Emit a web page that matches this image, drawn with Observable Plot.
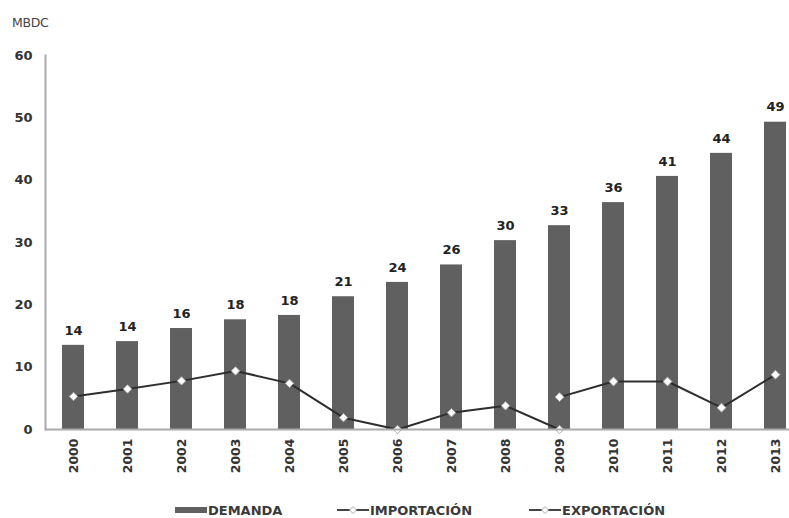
<!DOCTYPE html>
<html><head><meta charset="utf-8">
<script src="https://cdn.jsdelivr.net/npm/d3@7"></script>
<script src="https://cdn.jsdelivr.net/npm/@observablehq/plot@0.6"></script>
<style>
body{margin:0;background:#fff;font-family:"DejaVu Sans",sans-serif;}
#wrap{position:relative;width:789px;height:518px;overflow:hidden;}
#unit{position:absolute;left:12px;top:15px;font-size:12.5px;color:#444;letter-spacing:-0.3px;}
#chart{position:absolute;left:0;top:0;}
#legend{position:absolute;left:0;top:501px;width:789px;height:18px;font-size:13px;font-weight:bold;color:#3a3a3a;}
.item{position:absolute;top:0;display:flex;align-items:center;height:18px;}
</style></head>
<body><div id="wrap"><div id="unit">MBDC</div><div id="chart"></div><div id="legend"></div></div>
<script>
const years = ["2000","2001","2002","2003","2004","2005","2006","2007","2008","2009","2010","2011","2012","2013"];
const demanda = [13.5,14.1,16.2,17.6,18.3,21.3,23.6,26.4,30.3,32.7,36.4,40.6,44.3,49.3];
const importYears = ["2000","2001","2002","2003","2004","2005","2006","2007","2008","2009"];
const importacion = [5.3,6.5,7.8,9.4,7.4,1.9,0,2.7,3.8,0];
const exportYears = ["2009","2010","2011","2012","2013"];
const exportacion = [5.2,7.7,7.7,3.5,8.8];
const yTicks = [0,10,20,30,40,50,60];

const dem = years.map((y,i)=>({year:y, value:demanda[i]}));
const imp = importYears.map((y,i)=>({year:y, value:importacion[i]}));
const exp = exportYears.map((y,i)=>({year:y, value:exportacion[i]}));

const chart = Plot.plot({
  width: 789, height: 480,
  marginLeft: 45, marginRight: 0, marginTop: 55, marginBottom: 51,
  style: {fontFamily: '"DejaVu Sans", sans-serif', fontWeight: "bold", color: "#333", background: "transparent"},
  x: {type: "band", domain: years, range: [45, 802], paddingInner: 0.6, paddingOuter: 0.3, label: null},
  y: {domain: [0, 60], label: null},
  marks: [
    Plot.barY(dem, {x: "year", y: "value", fill: "#606060"}),
    Plot.text(dem, {x: "year", y: "value", text: d => String(Math.round(d.value)), dy: -15, fontSize: 13, fontWeight: "bold", fill: "#222"}),
    Plot.line(imp, {x: "year", y: "value", stroke: "#2e2e2e", strokeWidth: 2}),
    Plot.line(exp, {x: "year", y: "value", stroke: "#2e2e2e", strokeWidth: 2}),
    Plot.dot(imp, {x: "year", y: "value", symbol: "diamond2", r: 3.8, fill: "#fff", stroke: "#aaa", strokeWidth: 1}),
    Plot.dot(exp, {x: "year", y: "value", symbol: "diamond2", r: 4, fill: "#fff", stroke: "#aaa", strokeWidth: 1}),
    Plot.ruleY([0], {stroke: "#aaa", strokeWidth: 2}),
    Plot.frame({anchor: "left", stroke: "#aaa", strokeWidth: 2}),
    Plot.axisY(yTicks, {tickSize: 0, tickPadding: 13, fontSize: 13, fontWeight: "bold", fill: "#333", label: null}),
    Plot.axisX({tickSize: 0, tickRotate: -90, tickPadding: 9, fontSize: 12.5, fontWeight: "bold", fill: "#333", label: null})
  ]
});
document.getElementById("chart").appendChild(chart);

const legendItems = [
  {name: "DEMANDA", kind: "bar", left: 175},
  {name: "IMPORTACIÓN", kind: "line", left: 337},
  {name: "EXPORTACIÓN", kind: "line", left: 529}
];
const leg = document.getElementById("legend");
for (const it of legendItems) {
  const d = document.createElement("div");
  d.className = "item";
  d.style.left = it.left + "px";
  const sw = it.kind === "bar"
    ? '<svg width="32" height="10" style="display:block"><rect x="0" y="2" width="32" height="6" fill="#606060"/></svg>'
    : '<svg width="32" height="12" style="display:block"><line x1="0" y1="6" x2="32" y2="6" stroke="#444" stroke-width="2"/><path d="M16 2.5 L19.5 6 L16 9.5 L12.5 6 Z" fill="#fff" stroke="#aaa"/></svg>';
  d.innerHTML = sw + '<span style="margin-left:1px">' + it.name + '</span>';
  leg.appendChild(d);
}
</script></body></html>
